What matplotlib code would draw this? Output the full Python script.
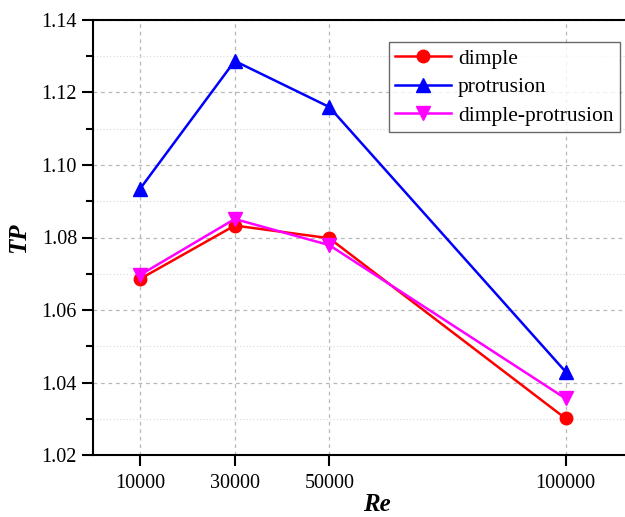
import matplotlib
matplotlib.use("Agg")
import matplotlib.pyplot as plt
from matplotlib.ticker import MultipleLocator

# Re values and TP for each surface
re = [10000, 30000, 50000, 100000]
tp_dimple = [1.0686, 1.0833, 1.0798, 1.0301]
tp_protrusion = [1.0935, 1.1287, 1.1160, 1.0430]
tp_dimple_protrusion = [1.0697, 1.0851, 1.0779, 1.0356]
xticks = [10000, 30000, 50000, 100000]

plt.rcParams["font.family"] = ["Liberation Serif", "DejaVu Serif"]

fig = plt.figure(figsize=(6.25, 5.17), dpi=100)
ax = fig.add_axes([93 / 625, 1 - 455 / 517, (660 - 93) / 625, 435 / 517])

ax.plot(re, tp_dimple, "-o", color="red", lw=1.8, ms=9, label="dimple")
ax.plot(re, tp_protrusion, "-^", color="blue", lw=1.8, ms=10, label="protrusion")
ax.plot(re, tp_dimple_protrusion, "-v", color="magenta", lw=1.8, ms=10,
        label="dimple-protrusion")

ax.set_xlim(0, 120000)
ax.set_ylim(1.02, 1.14)
ax.set_xticks(xticks)
ax.set_xticklabels([str(v) for v in xticks])
ax.yaxis.set_major_locator(MultipleLocator(0.02))
ax.yaxis.set_minor_locator(MultipleLocator(0.01))
ax.yaxis.set_major_formatter(matplotlib.ticker.FormatStrFormatter("%.2f"))

ax.grid(True, which="major", ls=(0, (3, 3)), color="#b8b8b8", lw=0.9)
ax.grid(True, which="minor", axis="y", ls=(0, (1, 2)), color="#d8d8d8", lw=0.8)
ax.set_axisbelow(True)

for s in ax.spines.values():
    s.set_linewidth(1.5)
ax.spines["right"].set_visible(False)
ax.tick_params(which="major", direction="out", length=8, width=1.5, labelsize=14.5)
ax.tick_params(which="minor", direction="out", length=5, width=1.5)
ax.tick_params(axis="x", pad=6)

ax.set_xlabel("Re", fontsize=18, fontweight="bold", fontstyle="italic", labelpad=0)
ax.set_ylabel("TP", fontsize=18, fontweight="bold", fontstyle="italic", labelpad=8)

leg = ax.legend(loc="upper left", bbox_to_anchor=((389 - 93) / 567, (455 - 42) / 435),
                fontsize=15.5, frameon=True, fancybox=False, edgecolor="#444444",
                handlelength=2.6, borderpad=0.3, labelspacing=0.4, handletextpad=0.3,
                borderaxespad=0)
leg.get_frame().set_linewidth(1.0)

fig.savefig("out.png", dpi=100)
